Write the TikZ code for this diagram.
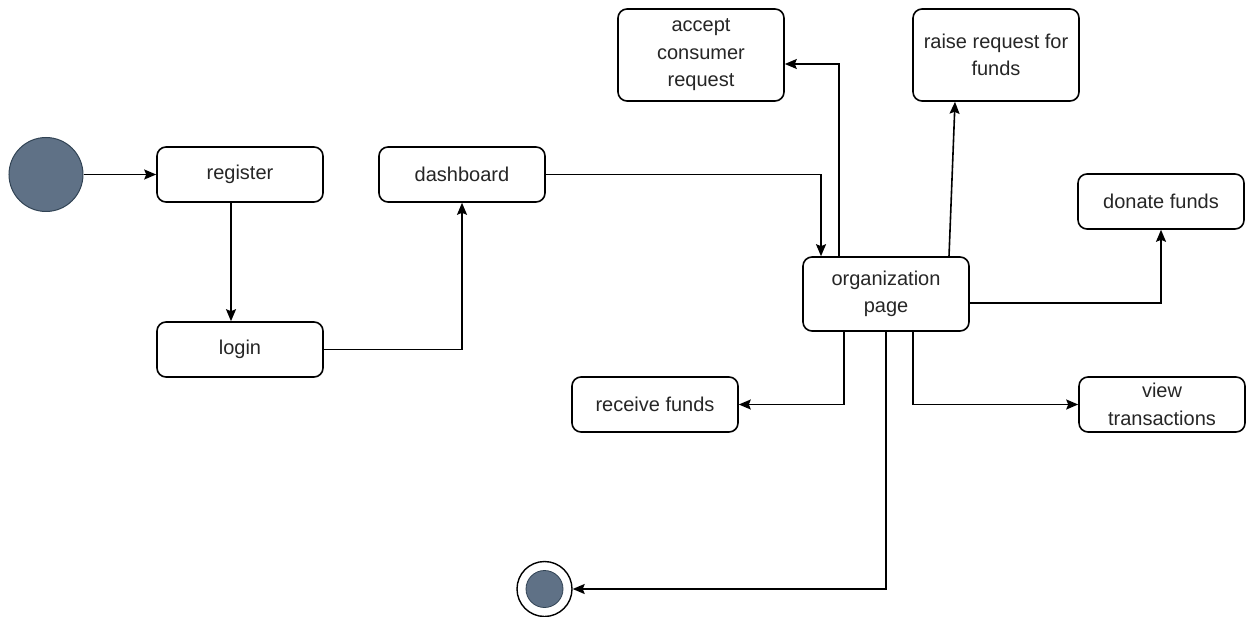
\documentclass[tikz,border=0pt]{standalone}
\usepackage{fontspec}
\setmainfont{Liberation Sans}
\usetikzlibrary{arrows.meta}
\definecolor{stfill}{HTML}{5F7186}
\definecolor{ststroke}{HTML}{314354}
\definecolor{txt}{HTML}{262626}
\begin{document}
\begin{tikzpicture}[x=1pt,y=-1pt,
  box/.style={draw, line width=1.6pt, rounded corners=9pt, fill=white, align=center,
    font=\fontsize{20}{27.5}\selectfont, text=txt, inner sep=0pt},
  conn/.style={line width=1.6pt, -{Stealth[length=12pt,width=10pt,inset=2pt]}}]
\useasboundingbox (0,0) rectangle (1246,617);
\node[circle, fill=stfill, draw=ststroke, line width=1pt, minimum size=74pt, inner sep=0pt] (start) at (46,174.5) {};
\node[box, minimum width=166pt, minimum height=55pt] (register) at (240,174.5) {register};
\node[box, minimum width=166pt, minimum height=55pt] (login) at (240,349.5) {login};
\node[box, minimum width=166pt, minimum height=55pt] (dash) at (462,174.5) {dashboard};
\node[box, minimum width=166pt, minimum height=74pt] (org) at (886,294) {organization\\page};
\node[box, minimum width=166pt, minimum height=92pt] (accept) at (701,55) {accept\\consumer\\request};
\node[box, minimum width=166pt, minimum height=92pt] (raise) at (996,55) {raise request for\\funds};
\node[box, minimum width=166pt, minimum height=55pt] (donate) at (1161,201.5) {donate funds};
\node[box, minimum width=166pt, minimum height=55pt] (receive) at (655,404.5) {receive funds};
\node[box, minimum width=166pt, minimum height=55pt] (view) at (1162,404.5) {view\\transactions};
\node[circle, draw=black, line width=1.4pt, fill=white, minimum size=55pt, inner sep=0pt] (endo) at (544.5,589) {};
\node[circle, fill=stfill, draw=ststroke, line width=0.8pt, minimum size=37pt, inner sep=0pt] (endi) at (544.5,589) {};

\draw[conn] (start) -- (register);
\draw[conn] (register.south -| 231,0) -- (login.north -| 231,0);
\draw[conn] (login.east) -| (dash.south);
\draw[conn] (dash.east) -| (org.north -| 821,0);
\draw[conn] (org.north -| 839,0) |- (accept.east |- 0,64);
\draw[conn] (org.north -| 949,0) -- (raise.south -| 955,0);
\draw[conn] (org.east |- 0,303) -| (donate.south);
\draw[conn] (org.south -| 844,0) |- (receive.east);
\draw[conn] (org.south -| 913,0) |- (view.west);
\draw[conn] (org.south) |- (endo.east);
\end{tikzpicture}
\end{document}
